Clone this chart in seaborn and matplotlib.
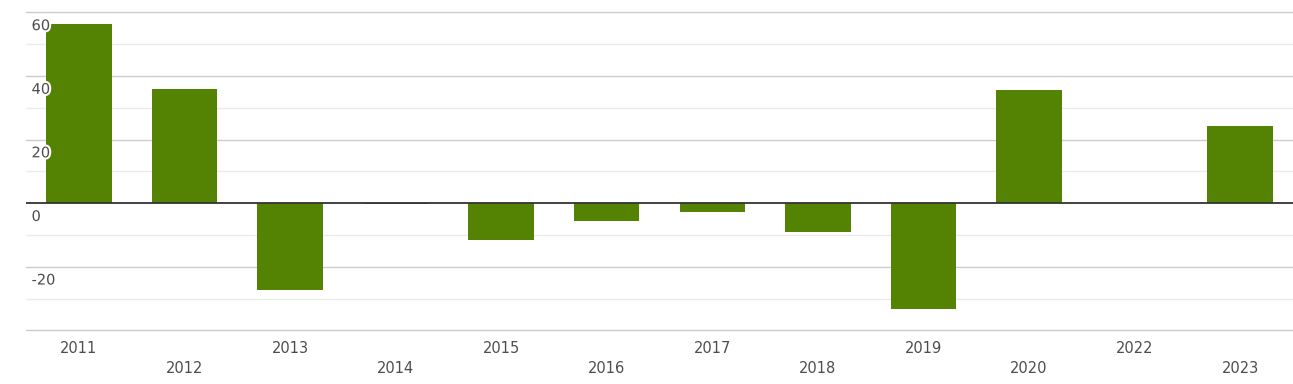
import matplotlib
matplotlib.use("Agg")
import matplotlib.pyplot as plt
import matplotlib.patheffects as pe
import seaborn as sns
import pandas as pd

# data
years = ["2011", "2012", "2013", "2014", "2015", "2016",
         "2017", "2018", "2019", "2020", "2022", "2023"]
values = [56.2, 36.0, -27.3, -0.4, -11.6, -5.6,
          -2.7, -9.0, -33.2, 35.6, 0.0, 24.3]
y_ticks = [-20, 0, 20, 40, 60]

bar_color = "#548203"
text_color = "#4d4d4d"

df = pd.DataFrame({"year": years, "value": values})

sns.set_theme(style="white")
plt.rcParams["font.family"] = ["DejaVu Sans"]

fig = plt.figure(figsize=(12.93, 3.84), dpi=100)
ax = fig.add_axes([26 / 1293, (384 - 330.3) / 384, 1 - 26 / 1293, (330.3 - 12.3) / 384])

sns.barplot(data=df, x="year", y="value", order=years, color=bar_color,
            saturation=1, width=0.62, linewidth=0, ax=ax, zorder=3)

ax.set_xlim(-0.5, len(years) - 0.5)
ax.set_ylim(-40, 60)

# grid
for v in range(-40, 61, 10):
    if v == 0:
        continue
    major = v % 20 == 0
    ax.axhline(v, color="#cccccc" if major else "#ebebeb", lw=1, zorder=1, clip_on=False)
ax.axhline(0, color="#333333", lw=1.3, zorder=4)

for s in ax.spines.values():
    s.set_visible(False)

# y labels sit inside the plot, just below their gridline
ax.set_yticks([])
for t in y_ticks:
    ax.annotate(str(t), xy=(0, t), xycoords=("axes fraction", "data"),
                xytext=(4, -4.2), textcoords="offset points",
                ha="left", va="top", fontsize=10.5, color=text_color, zorder=5,
                path_effects=[pe.withStroke(linewidth=3, foreground="white")])

# staggered x labels
ax.set_xticks(range(len(years)))
ax.set_xticklabels([y if i % 2 == 0 else "\n" + y for i, y in enumerate(years)],
                   fontsize=10.5, color=text_color)
for lab in ax.get_xticklabels():
    lab.set_linespacing(1.45)
ax.tick_params(axis="x", length=0, pad=7.5)
ax.set_xlabel("")
ax.set_ylabel("")

fig.savefig("out.png", dpi=100)
